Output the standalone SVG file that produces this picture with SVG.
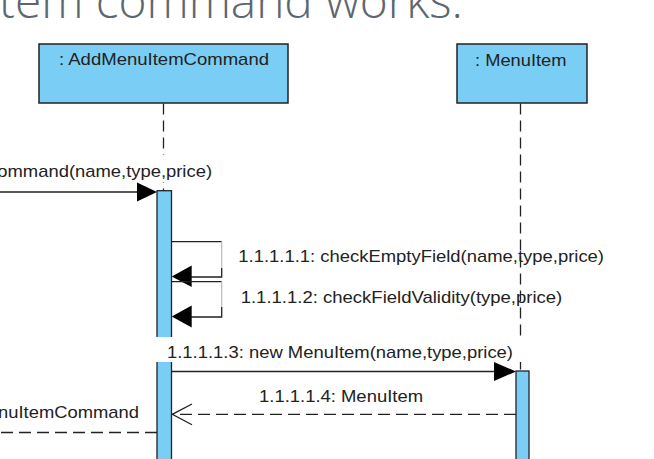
<svg xmlns="http://www.w3.org/2000/svg" width="654" height="459" viewBox="0 0 654 459">
<defs>
<style>
.lbl{font-family:"Liberation Sans",Arial,sans-serif;font-size:17px;fill:#222}
.title{font-family:"Open Sans","Noto Sans",sans-serif;font-weight:300;font-size:48px;fill:#5d6770}
.box{fill:#7acdf4;stroke:#222;stroke-width:1.5}
.bar{fill:#7acdf4;stroke:#222;stroke-width:1.3}
.life{stroke:#222;stroke-width:1.3;stroke-dasharray:11,6;fill:none}
.msg{stroke:#222;stroke-width:1.3;fill:none}
.ret{stroke:#222;stroke-width:1.3;fill:none;stroke-dasharray:12,6}
.head{fill:#000}
.bg{fill:#fff}
</style>
</defs>
<rect width="654" height="459" fill="#fff"/>
<text class="title" x="-1" y="18" textLength="464" lengthAdjust="spacingAndGlyphs">tem command works.</text>

<g id="connectors">
<line class="life" x1="163.5" y1="103.5" x2="163.5" y2="191"/>
<line class="life" x1="520.5" y1="103.5" x2="520.5" y2="371"/>
<!-- message 1 -->
<line class="msg" x1="0" y1="192" x2="140" y2="192"/>
<polygon class="head" points="137,182.5 157,192 137,201.5"/>
<!-- self messages -->
<path class="msg" d="M171.5,241.7 H221.7"/>
<path d="M221.7,241.7 V268" stroke="#bbb" stroke-width="1.2" fill="none"/>
<path class="msg" d="M221.7,268 V277 H188"/>
<polygon class="head" points="191.7,265.5 171.7,276.5 191.7,287"/>
<path class="msg" d="M171.5,281.7 H221.7"/>
<path d="M221.7,281.7 V307" stroke="#bbb" stroke-width="1.2" fill="none"/>
<path class="msg" d="M221.7,307 V317 H188"/>
<polygon class="head" points="191.7,305.5 171.7,316.5 191.7,327.5"/>
<!-- message 3 -->
<line class="msg" x1="171.7" y1="371.5" x2="497" y2="371.5"/>
<polygon class="head" points="494,362 516,371.5 494,381"/>
<!-- return 4 -->
<line class="ret" x1="516" y1="414.3" x2="172.5" y2="414.3"/>
<polyline class="msg" points="192,404 172.3,414.3 192,424.8"/>
<!-- return to left -->
<line class="ret" x1="157" y1="432.5" x2="0" y2="432.5"/>
</g>

<g id="node-addmenuitemcommand">
<rect class="box" x="39" y="44" width="249" height="59"/>
<text class="lbl" x="59" y="65" textLength="210" lengthAdjust="spacingAndGlyphs">: AddMenuItemCommand</text>
</g>
<g id="node-menuitem">
<rect class="box" x="457" y="44" width="130" height="59"/>
<text class="lbl" x="475" y="65.5" textLength="91.5" lengthAdjust="spacingAndGlyphs">: MenuItem</text>
</g>
<g id="activation-1">
<rect class="bar" x="157" y="190.7" width="14.5" height="290"/>
</g>
<g id="activation-2">
<rect class="bar" x="516" y="371" width="13" height="110"/>
</g>

<g id="labels">
<rect class="bg" x="0" y="155" width="214" height="27"/>
<text class="lbl" x="-2.7" y="177" textLength="214.7" lengthAdjust="spacingAndGlyphs">ommand(name,type,price)</text>
<text class="lbl" x="238.3" y="262" textLength="365.7" lengthAdjust="spacingAndGlyphs">1.1.1.1.1: checkEmptyField(name,type,price)</text>
<text class="lbl" x="240.7" y="303" textLength="321.6" lengthAdjust="spacingAndGlyphs">1.1.1.1.2: checkFieldValidity(type,price)</text>
<rect class="bg" x="155" y="337" width="367" height="25"/>
<text class="lbl" x="167" y="358" textLength="346" lengthAdjust="spacingAndGlyphs">1.1.1.1.3: new MenuItem(name,type,price)</text>
<text class="lbl" x="259" y="402" textLength="164" lengthAdjust="spacingAndGlyphs">1.1.1.1.4: MenuItem</text>
<text class="lbl" x="-2" y="418" textLength="141" lengthAdjust="spacingAndGlyphs">nuItemCommand</text>
</g>
</svg>
